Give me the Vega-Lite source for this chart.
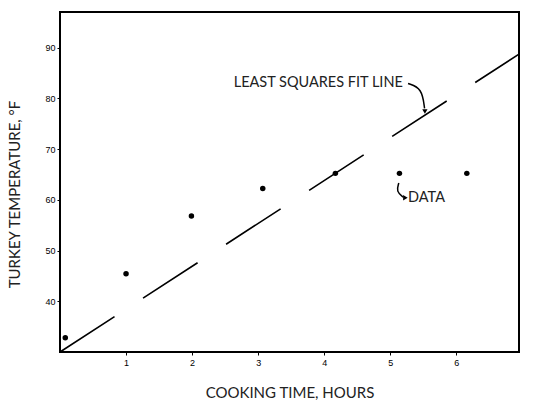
{
  "$schema": "https://vega.github.io/schema/vega-lite/v6.json",
  "width": 459,
  "height": 340,
  "autosize": "none",
  "padding": {"left": 60, "top": 12, "right": 40, "bottom": 53},
  "background": "white",
  "config": {
    "view": {"stroke": "black", "strokeWidth": 2},
    "font": "Lato",
    "axis": {
      "grid": false,
      "domain": false,
      "tickColor": "black",
      "tickSize": 3,
      "labelFont": "Liberation Sans",
      "labelFontSize": 9,
      "labelColor": "black",
      "titleFont": "Lato",
      "titleFontWeight": "normal",
      "titleFontSize": 15,
      "titleColor": "#222"
    }
  },
  "datasets": {
    "points": [
      {"hours": 0.08, "temp": 32.8},
      {"hours": 1.0, "temp": 45.4},
      {"hours": 1.99, "temp": 56.8},
      {"hours": 3.07, "temp": 62.2},
      {"hours": 4.17, "temp": 65.2},
      {"hours": 5.14, "temp": 65.2},
      {"hours": 6.16, "temp": 65.2}
    ],
    "fit": [
      {"hours": 0, "temp": 30},
      {"hours": 6.95, "temp": 88.7}
    ],
    "labels": [
      {"hours": 2.63, "temp": 83.1, "text": "LEAST SQUARES FIT LINE"},
      {"hours": 5.27, "temp": 60.4, "text": "DATA"}
    ],
    "arrows": [
      {"arrow": "fit", "order": 1, "hours": 5.27, "temp": 82.9},
      {"arrow": "fit", "order": 2, "hours": 5.48, "temp": 82.0},
      {"arrow": "fit", "order": 3, "hours": 5.52, "temp": 78.0},
      {"arrow": "data", "order": 1, "hours": 5.13, "temp": 63.3},
      {"arrow": "data", "order": 2, "hours": 5.09, "temp": 61.6},
      {"arrow": "data", "order": 3, "hours": 5.2, "temp": 60.5}
    ],
    "heads": [
      {"hours": 5.525, "temp": 77.4, "angle": 180},
      {"hours": 5.23, "temp": 60.4, "angle": 90}
    ]
  },
  "encoding": {
    "x": {
      "field": "hours",
      "type": "quantitative",
      "scale": {"domain": [0, 6.95], "nice": false, "zero": false},
      "axis": {"values": [1, 2, 3, 4, 5, 6], "title": "COOKING TIME, HOURS", "titlePadding": 18, "labelPadding": 3}
    },
    "y": {
      "field": "temp",
      "type": "quantitative",
      "scale": {"domain": [30, 97], "nice": false, "zero": false},
      "axis": {"values": [40, 50, 60, 70, 80, 90], "title": "TURKEY TEMPERATURE, °F", "titlePadding": 22, "titleY": 182, "labelPadding": 2}
    }
  },
  "layer": [
    {
      "data": {"name": "fit"},
      "mark": {"type": "line", "color": "black", "strokeWidth": 1.6, "strokeDash": [65, 34]}
    },
    {
      "data": {"name": "points"},
      "mark": {"type": "point", "filled": true, "color": "black", "opacity": 1, "size": 30}
    },
    {
      "data": {"name": "arrows"},
      "mark": {"type": "line", "color": "black", "strokeWidth": 1.5, "interpolate": "basis"},
      "encoding": {"detail": {"field": "arrow"}, "order": {"field": "order"}}
    },
    {
      "data": {"name": "heads"},
      "mark": {"type": "point", "shape": "triangle-up", "filled": true, "color": "black", "opacity": 1, "size": 28},
      "encoding": {"angle": {"field": "angle", "type": "quantitative", "scale": null}}
    },
    {
      "data": {"name": "labels"},
      "mark": {"type": "text", "align": "left", "baseline": "middle", "font": "Lato", "fontSize": 14.5, "color": "#222"},
      "encoding": {"text": {"field": "text"}}
    }
  ]
}
